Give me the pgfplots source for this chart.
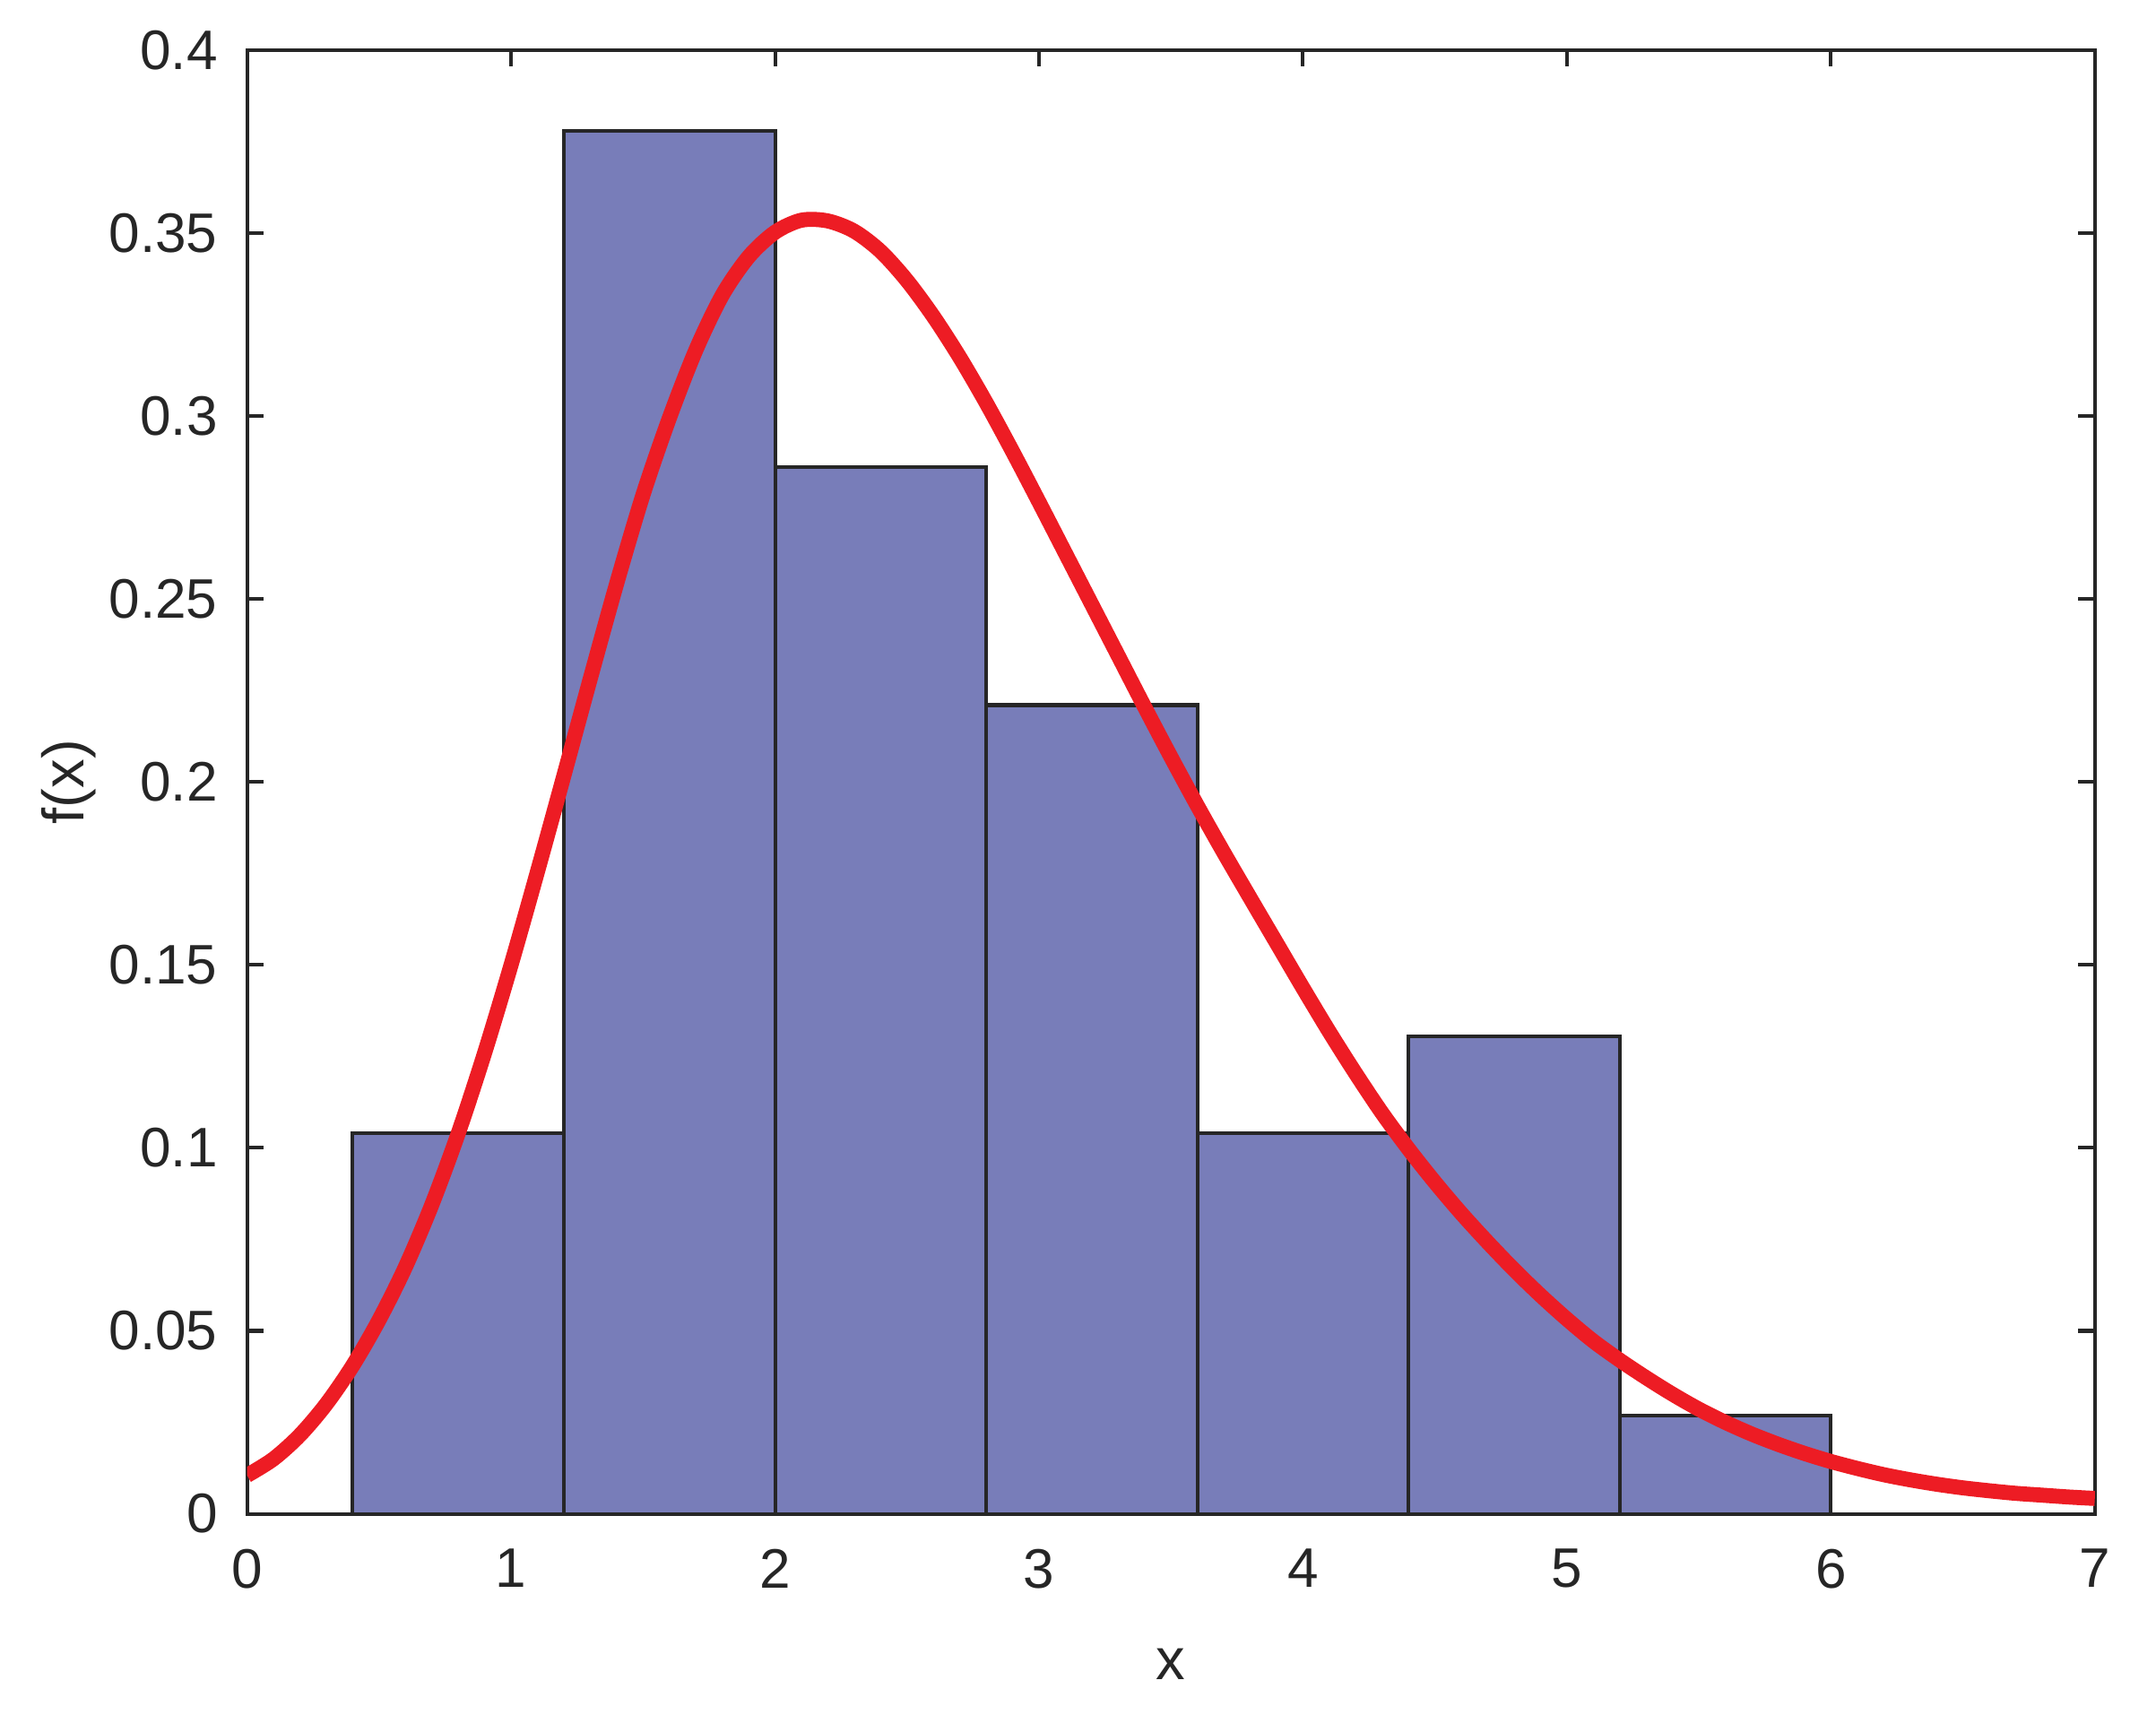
\documentclass[border=0pt]{standalone}
\usepackage{fontspec}
\setmainfont{Liberation Sans}
\usepackage{pgfplots}
\pgfplotsset{compat=1.18}
\definecolor{barfill}{RGB}{120,125,185}
\definecolor{curvered}{RGB}{237,28,36}
\definecolor{axgray}{RGB}{38,38,38}
\begin{document}
\begin{tikzpicture}
\begin{axis}[
  scale only axis,
  width=332pt, height=263pt,
  xmin=0, xmax=7, ymin=0, ymax=0.4,
  xtick={0,1,2,3,4,5,6,7},
  ytick={0,0.05,0.1,0.15,0.2,0.25,0.3,0.35,0.4},
  yticklabels={0,0.05,0.1,0.15,0.2,0.25,0.3,0.35,0.4},
  xticklabels={0,1,2,3,4,5,6,7},
  tick align=inside,
  major tick length=3pt,
  axis line style={axgray, line width=0.65pt},
  every tick/.style={axgray, line width=0.65pt},
  tick label style={font=\fontsize{10}{12}\selectfont, text=axgray},
  xticklabel style={yshift=-2.8pt},
  yticklabel style={xshift=-1.8pt},
  xlabel={x}, ylabel={f(x)},
  label style={font=\fontsize{10.5}{12}\selectfont, text=axgray},
  xlabel style={yshift=-4pt},
  ylabel style={yshift=-4.5pt},
  /pgf/number format/assume math mode=true,
  clip=true,
]
\addplot[ybar interval, fill=barfill, draw=axgray, line width=0.65pt] coordinates {
  (0.4,0.104) (1.2,0.378) (2.0,0.286) (2.8,0.221) (3.6,0.104) (4.4,0.1305) (5.2,0.0268) (6.0,0.0268)
};
\addplot[curvered, line width=2.7pt, smooth] coordinates {
  (0.0,0.0105) (0.1,0.0150) (0.2,0.0215) (0.3,0.0300) (0.4,0.0405) (0.5,0.0530)
  (0.6,0.0675) (0.7,0.0845) (0.8,0.1040) (0.9,0.1260) (1.0,0.1500) (1.1,0.1755)
  (1.2,0.2017) (1.3,0.2282) (1.4,0.2542) (1.5,0.2785) (1.6,0.2995) (1.7,0.3180)
  (1.8,0.3330) (1.9,0.3435) (2.0,0.3502) (2.1,0.3535) (2.2,0.3533)
  (2.3,0.3505) (2.4,0.3450) (2.5,0.3370) (2.6,0.3272) (2.7,0.3160) (2.8,0.3036)
  (2.9,0.2903) (3.0,0.2765) (3.1,0.2625) (3.2,0.2485) (3.3,0.2345) (3.4,0.2205)
  (3.5,0.2068) (3.6,0.1935) (3.7,0.1807) (3.8,0.1683) (3.9,0.1560) (4.0,0.1437)
  (4.1,0.1317) (4.2,0.1203) (4.3,0.1095) (4.4,0.0997) (4.5,0.0906) (4.6,0.0821)
  (4.7,0.0742) (4.8,0.0667) (4.9,0.0597) (5.0,0.0532) (5.1,0.0472) (5.2,0.0420)
  (5.3,0.0372) (5.4,0.0327) (5.5,0.0286) (5.6,0.0250) (5.7,0.0218) (5.8,0.0190)
  (5.9,0.0165) (6.0,0.0143) (6.1,0.0124) (6.2,0.0107) (6.3,0.0093) (6.4,0.0081)
  (6.5,0.0071) (6.6,0.0063) (6.7,0.0056) (6.8,0.0051) (6.9,0.0046) (7.0,0.0042)
};
\end{axis}
\pgfresetboundingbox
\path[use as bounding box] (current axis.south west) ++(-44.4pt,-36pt) rectangle ([xshift=11pt,yshift=9pt]current axis.north east);
\end{tikzpicture}
\end{document}
